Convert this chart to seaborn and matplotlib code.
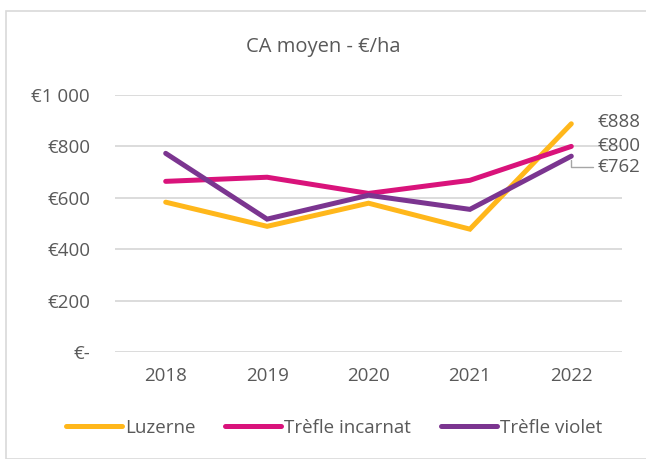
import numpy as np
import pandas as pd
import matplotlib.pyplot as plt
import matplotlib.patches as mpatches
import seaborn as sb

years = ['2018', '2019', '2020', '2021', '2022']
luzerne = [583, 489, 579, 478, 888]
trefle_incarnat = [664, 680, 617, 668, 800]
trefle_violet = [773, 517, 610, 555, 762]
series_names = ['Luzerne', 'Trèfle incarnat', 'Trèfle violet']
colors = ['#FFB71B', '#D9137B', '#7B3590']
y_ticks = [0, 200, 400, 600, 800, 1000]
y_labels = ['€-', '€200', '€400', '€600', '€800', '€1 000']

GRAY = '#595959'
FS = 13.5

df = pd.DataFrame({
  'year': years * 3,
  'value': luzerne + trefle_incarnat + trefle_violet,
  'serie': [n for n in series_names for _ in years],
})

sb.set_style('white')
plt.rcParams['font.family'] = ['Open Sans', 'DejaVu Sans']

fig = plt.figure(figsize = (6.46, 4.59), dpi = 100)
W, H = 646, 459
ax = fig.add_axes([115 / W, 1 - 352 / H, (622 - 115) / W, (352 - 95) / H])

# chart frame
fig.patches.append(mpatches.Rectangle((6 / W, 0), 1, 1 - 11 / H, transform = fig.transFigure,
                                      fill = False, edgecolor = '#d9d9d9', linewidth = 1.2))

sb.lineplot(data = df, x = 'year', y = 'value', hue = 'serie', palette = colors,
            linewidth = 3.6, ax = ax, legend = False, sort = False)
for line in ax.lines:
  line.set_solid_capstyle('round')
  line.set_solid_joinstyle('miter')
  line.set_zorder(3)

ax.set_xlim(-0.5, 4.5)
ax.set_ylim(0, 1000)
ax.set_yticks(y_ticks)
ax.set_yticklabels(y_labels)
ax.yaxis.grid(True, color = '#d9d9d9', linewidth = 1.3)
ax.set_axisbelow(True)
for s in ax.spines.values():
  s.set_visible(False)
ax.set_xlabel('')
ax.set_ylabel('')
ax.tick_params(axis = 'both', length = 0, labelsize = FS, colors = GRAY)
ax.tick_params(axis = 'y', pad = 18)
ax.tick_params(axis = 'x', pad = 11)

fig.text(0.5, 1 - 47 / H, 'CA moyen - €/ha', ha = 'center', va = 'center', fontsize = 14.5, color = GRAY)

# data labels on the last point
ax.annotate(f'€{luzerne[-1]}', (4, luzerne[-1]), xytext = (19, 1), textcoords = 'offset points',
            ha = 'left', va = 'center', fontsize = FS, color = GRAY)
ax.annotate(f'€{trefle_incarnat[-1]}', (4, trefle_incarnat[-1]), xytext = (19, 0), textcoords = 'offset points',
            ha = 'left', va = 'center', fontsize = FS, color = GRAY)
ax.annotate(f'€{trefle_violet[-1]}', (4, trefle_violet[-1]), xytext = (19, -8), textcoords = 'offset points',
            ha = 'left', va = 'center', fontsize = FS, color = GRAY,
            arrowprops = dict(arrowstyle = '-', color = '#a6a6a6', lw = 1,
                              connectionstyle = 'angle,angleA=0,angleB=90,rad=0',
                              shrinkA = 1, shrinkB = 3))

handles = [plt.Line2D([], [], color = c, linewidth = 3.6, solid_capstyle = 'round') for c in colors]
fig.legend(handles, series_names, loc = 'center', bbox_to_anchor = (0.517, 1 - 428 / H), ncol = 3,
           frameon = False, fontsize = FS, labelcolor = GRAY, handlelength = 3.0,
           handletextpad = 0.15, columnspacing = 1.6)

plt.savefig('out.png', dpi = 100)
